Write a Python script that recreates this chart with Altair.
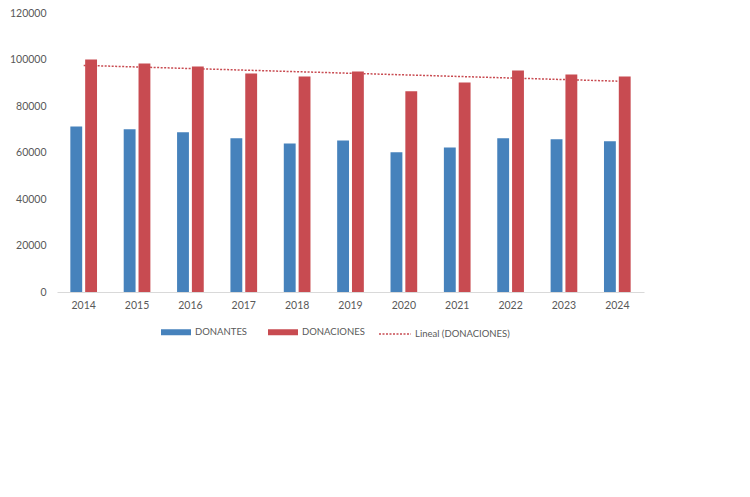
import pandas as pd
import altair as alt

# Datos
YEARS = [2014, 2015, 2016, 2017, 2018, 2019, 2020, 2021, 2022, 2023, 2024]
DONANTES = [71200, 70000, 68700, 66100, 63900, 65200, 60100, 62200, 66100, 65700, 64800]
DONACIONES = [100000, 98300, 97000, 94000, 92700, 94850, 86300, 90100, 95300, 93600, 92700]
Y_TICKS = [0, 20000, 40000, 60000, 80000, 100000, 120000]

BLUE = "#4682BC"
RED = "#C84B51"
TEXT = "#595959"
AXIS = "#D9D9D9"
FONT = "Lato"

df = pd.DataFrame({"year": YEARS, "DONANTES": DONANTES, "DONACIONES": DONACIONES})

base = alt.Chart(df)

bars = base.transform_fold(
    ["DONANTES", "DONACIONES"], as_=["serie", "valor"]
).mark_bar().encode(
    x=alt.X("year:O", title=None,
            scale=alt.Scale(paddingInner=0.5, paddingOuter=0.25),
            axis=alt.Axis(labelAngle=0, ticks=False, domainColor=AXIS,
                          labelPadding=8)),
    xOffset=alt.XOffset("serie:N", sort=["DONANTES", "DONACIONES"],
                        scale=alt.Scale(paddingInner=0.2, paddingOuter=0)),
    y=alt.Y("valor:Q", title=None,
            scale=alt.Scale(domain=[0, 120000], nice=False),
            axis=alt.Axis(values=Y_TICKS, format="d", domain=False,
                          ticks=False, grid=False, labelPadding=11)),
    color=alt.Color("serie:N",
                    scale=alt.Scale(domain=["DONANTES", "DONACIONES"], range=[BLUE, RED]),
                    legend=alt.Legend(title=None, orient="none", direction="horizontal",
                                      legendX=104, legendY=304,
                                      symbolType="M-1,-0.2H1V0.2H-1Z", symbolSize=900,
                                      symbolStrokeWidth=0, columnPadding=20,
                                      labelOffset=4)),
)

trend = base.transform_regression(
    "year", "DONACIONES"
).transform_calculate(
    serie="'Lineal (DONACIONES)'"
).mark_line(strokeDash=[2, 1.5], strokeWidth=1.5).encode(
    x=alt.X("year:O"),
    y=alt.Y("DONACIONES:Q"),
    color=alt.Color("serie:N",
                    scale=alt.Scale(domain=["Lineal (DONACIONES)"], range=[RED]),
                    legend=alt.Legend(title=None, orient="none", direction="horizontal",
                                      legendX=321, legendY=304,
                                      symbolType="stroke", symbolSize=1024,
                                      symbolDash=[2, 1.5], symbolStrokeWidth=1.5,
                                      labelOffset=3)),
)

chart = alt.layer(bars, trend).resolve_scale(
    color="independent"
).properties(
    width=587,
    height=279,
    padding={"left": 49, "top": 5, "right": 98, "bottom": 197},
    autosize=alt.AutoSizeParams(type="none"),
    background="white",
).configure_axis(
    labelColor=TEXT,
    labelFont=FONT,
    labelFontSize=10.5,
).configure_legend(
    labelColor=TEXT,
    labelFont=FONT,
    labelFontSize=9.5,
    padding=0,
).configure_view(
    stroke=None
)

chart.save("out.html", embed_options={"renderer": "svg", "actions": False})
